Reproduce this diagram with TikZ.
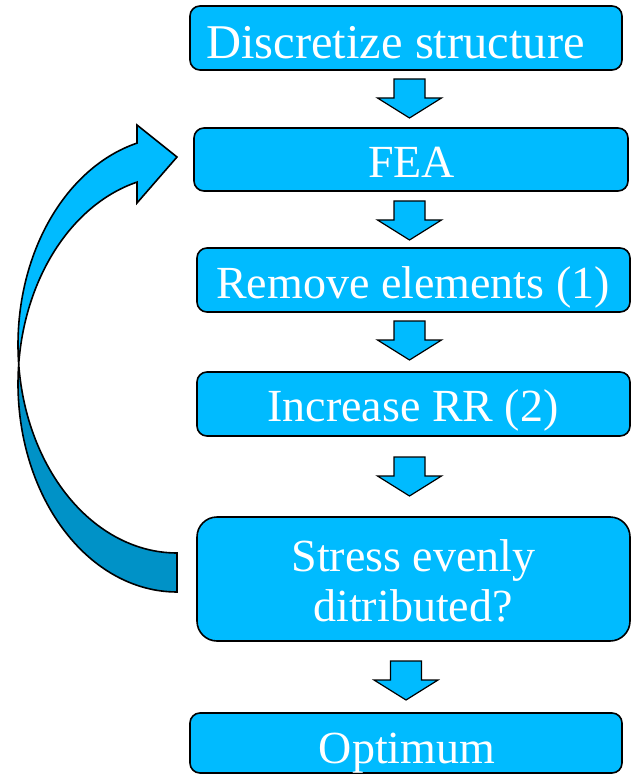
\documentclass[tikz,border=0pt]{standalone}
\usepackage{fontspec}
\setmainfont{Liberation Serif}
\definecolor{boxblue}{RGB}{0,187,255}
\definecolor{darkblue}{RGB}{0,146,199}
\begin{document}
\begin{tikzpicture}[x=1pt,y=-1pt,
  box/.style={draw=black, line width=1.6pt, fill=boxblue, rounded corners=10pt, inner sep=0pt},
  bigbox/.style={box, rounded corners=20pt},
  lbl/.style={text=white, font=\fontsize{46}{50}\selectfont, inner sep=0pt, anchor=base},
  biglbl/.style={lbl, font=\fontsize{48.5}{52}\selectfont},
  blockarrow/.style={draw=black, line width=1.2pt, fill=boxblue, line join=miter},
  curvepart/.style={draw=black, line width=1.6pt, line join=miter},
  pics/blockdown/.style={code={
    \draw[blockarrow] (-15.5,0) -- (15.5,0) -- (15.5,19) -- (32,19) -- (0,39)
      -- (-32,19) -- (-15.5,19) -- cycle;}}]
\useasboundingbox (0,0) rectangle (632,775);

% boxes
\node[box, minimum width=432pt, minimum height=64pt] (b1) at (406,38) {};
\node[box, minimum width=434pt, minimum height=63pt] (b2) at (411,159.5) {};
\node[box, minimum width=433pt, minimum height=64pt] (b3) at (413.5,280) {};
\node[box, minimum width=433pt, minimum height=64pt] (b4) at (413.5,404) {};
\node[bigbox, minimum width=433pt, minimum height=124pt] (b5) at (413.5,579) {};
\node[box, minimum width=432pt, minimum height=60pt] (b6) at (406,743) {};

% labels
\node[biglbl] (t1) at (395.5,59) {Discretize structure};
\node[lbl] (t2) at (411.5,178) {FEA};
\node[lbl] (t3) at (413,298) {Remove elements (1)};
\node[lbl] (t4) at (413,421) {Increase RR (2)};
\node[lbl] (t5a) at (413.5,571) {Stress evenly};
\node[lbl] (t5b) at (413,621) {ditributed?};
\node[lbl] (t6) at (407,763) {Optimum};

% block arrows between boxes
\pic (a1) at (409.5,79) {blockdown};
\pic (a2) at (409.5,201) {blockdown};
\pic (a3) at (409.5,321) {blockdown};
\pic (a4) at (409.5,457) {blockdown};
\pic (a5) at (406,661) {blockdown};

% curved return arrow (back face)
\draw[curvepart, fill=darkblue]
  plot[domain=90:174.63, samples=60] ({177+159*cos(\x)},{344.7+208.3*sin(\x)})
  -- plot[domain=185.37:90, samples=60] ({177+159*cos(\x)},{383.7+208.3*sin(\x)})
  -- cycle;
% curved return arrow (front face with head)
\draw[curvepart, fill=boxblue]
  plot[domain=174.63:255.43, samples=60] ({177+159*cos(\x)},{344.7+208.3*sin(\x)})
  -- (137,125) -- (177,157) -- (137,203)
  -- plot[domain=255.43:185.37, samples=60] ({177+159*cos(\x)},{383.7+208.3*sin(\x)})
  -- cycle;
\end{tikzpicture}
\end{document}
